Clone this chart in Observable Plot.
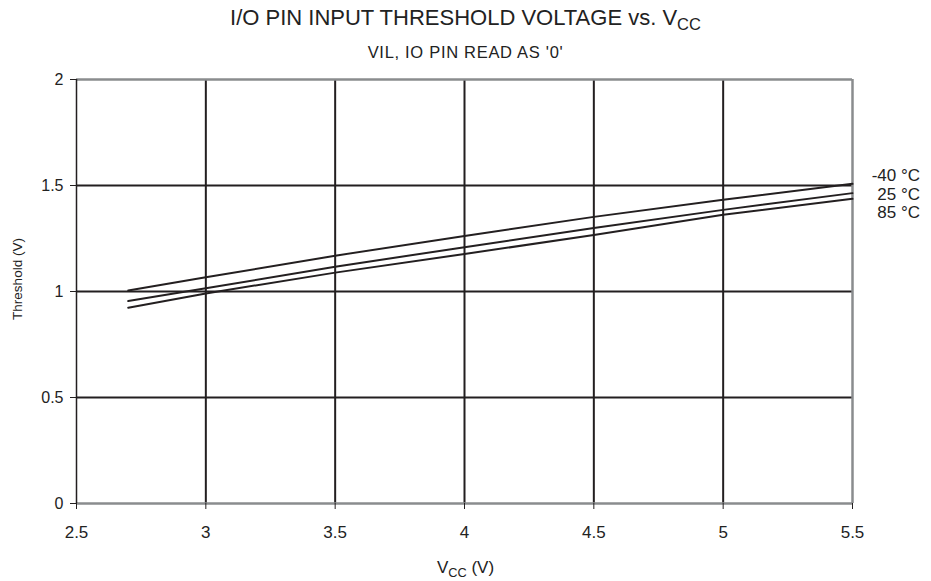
<!DOCTYPE html>
<html><head><meta charset="utf-8">
<script src="https://cdn.jsdelivr.net/npm/d3@7"></script>
<script src="https://cdn.jsdelivr.net/npm/@observablehq/plot@0.6"></script>
<style>
body{margin:0;background:#fff;font-family:"Liberation Sans",Arial,sans-serif;color:#222;}
#wrap{position:relative;width:931px;height:581px;}
.abs{position:absolute;white-space:nowrap;z-index:2;}
#title{left:0;width:931px;top:7px;text-align:center;font-size:22px;line-height:22px;}
#subtitle{left:0;width:931px;top:44px;text-align:center;font-size:16.5px;line-height:16.5px;letter-spacing:0.7px;}
#ylab{left:17px;top:279px;font-size:13.5px;transform:translate(-50%,-50%) rotate(-90deg);}
#xlab{left:0;width:931px;top:559px;text-align:center;font-size:17px;line-height:17px;}
#legend{left:860px;width:60px;top:167px;text-align:right;font-size:17px;line-height:18.5px;}
sub{font-size:0.75em;vertical-align:-0.3em;line-height:0;}
#chart{position:absolute;left:0;top:70px;z-index:1;}
#chart svg{background:transparent !important;}
#chart svg [aria-label="y-axis tick label"]{font-size:16px !important;}
#chart svg [aria-label="x-axis tick label"]{font-size:17px !important;}
</style></head>
<body><div id="wrap">
<div id="chart"></div>
<div id="title" class="abs">I/O PIN INPUT THRESHOLD VOLTAGE vs. V<sub>CC</sub></div>
<div id="subtitle" class="abs">VIL, IO PIN READ AS '0'</div>
<div id="ylab" class="abs">Threshold (V)</div>
<div id="xlab" class="abs">V<sub>CC</sub> (V)</div>
<div id="legend" class="abs"></div>
</div>
<script>
const vcc = [2.7, 3.0, 3.5, 4.0, 4.5, 5.0, 5.5];
const tMinus40 = [1.005, 1.067, 1.169, 1.262, 1.352, 1.433, 1.508];
const t25 = [0.955, 1.015, 1.117, 1.209, 1.300, 1.385, 1.464];
const t85 = [0.923, 0.991, 1.089, 1.177, 1.266, 1.362, 1.437];
const seriesNames = ["-40 °C", "25 °C", "85 °C"];
const xTicks = [2.5, 3, 3.5, 4, 4.5, 5, 5.5];
const yTicks = [0, 0.5, 1, 1.5, 2];

const seriesVals = [tMinus40, t25, t85];
const data = [];
seriesVals.forEach((vals, i) => vals.forEach((v, j) => data.push({x: vcc[j], y: v, s: seriesNames[i]})));

document.getElementById("legend").innerHTML = seriesNames.join("<br>");

const dark = "#231f20", gray = "#8a8c8e";
const plot = Plot.plot({
  width: 931, height: 511,
  marginLeft: 76, marginRight: 79, marginTop: 9, marginBottom: 78,
  style: {fontFamily: "Liberation Sans, Arial, sans-serif", color: "#222", background: "transparent"},
  x: {domain: [2.5, 5.5], ticks: xTicks, tickFormat: d => String(d), label: null},
  y: {domain: [0, 2], ticks: yTicks, tickFormat: d => String(d), label: null},
  marks: [
    Plot.ruleX(xTicks.filter(d => d > 2.5 && d < 5.5), {stroke: dark, strokeWidth: 2}),
    Plot.ruleY(yTicks.filter(d => d > 0 && d < 2), {stroke: dark, strokeWidth: 2}),
    Plot.ruleY([2], {stroke: gray, strokeWidth: 2.5}),
    Plot.ruleY([0], {stroke: gray, strokeWidth: 2.5}),
    Plot.ruleX([5.5], {stroke: gray, strokeWidth: 2.5}),
    Plot.ruleX([2.5], {stroke: dark, strokeWidth: 1.5}),
    Plot.axisX({ticks: xTicks, tickFormat: d => String(d), tickSize: 6, tickPadding: 16, stroke: dark, label: null}),
    Plot.axisY({ticks: yTicks, tickFormat: d => String(d), tickSize: 6, tickPadding: 7, stroke: dark, label: null}),
    Plot.line(data, {x: "x", y: "y", z: "s", stroke: dark, strokeWidth: 2})
  ]
});
document.getElementById("chart").appendChild(plot);
</script>
</body></html>
